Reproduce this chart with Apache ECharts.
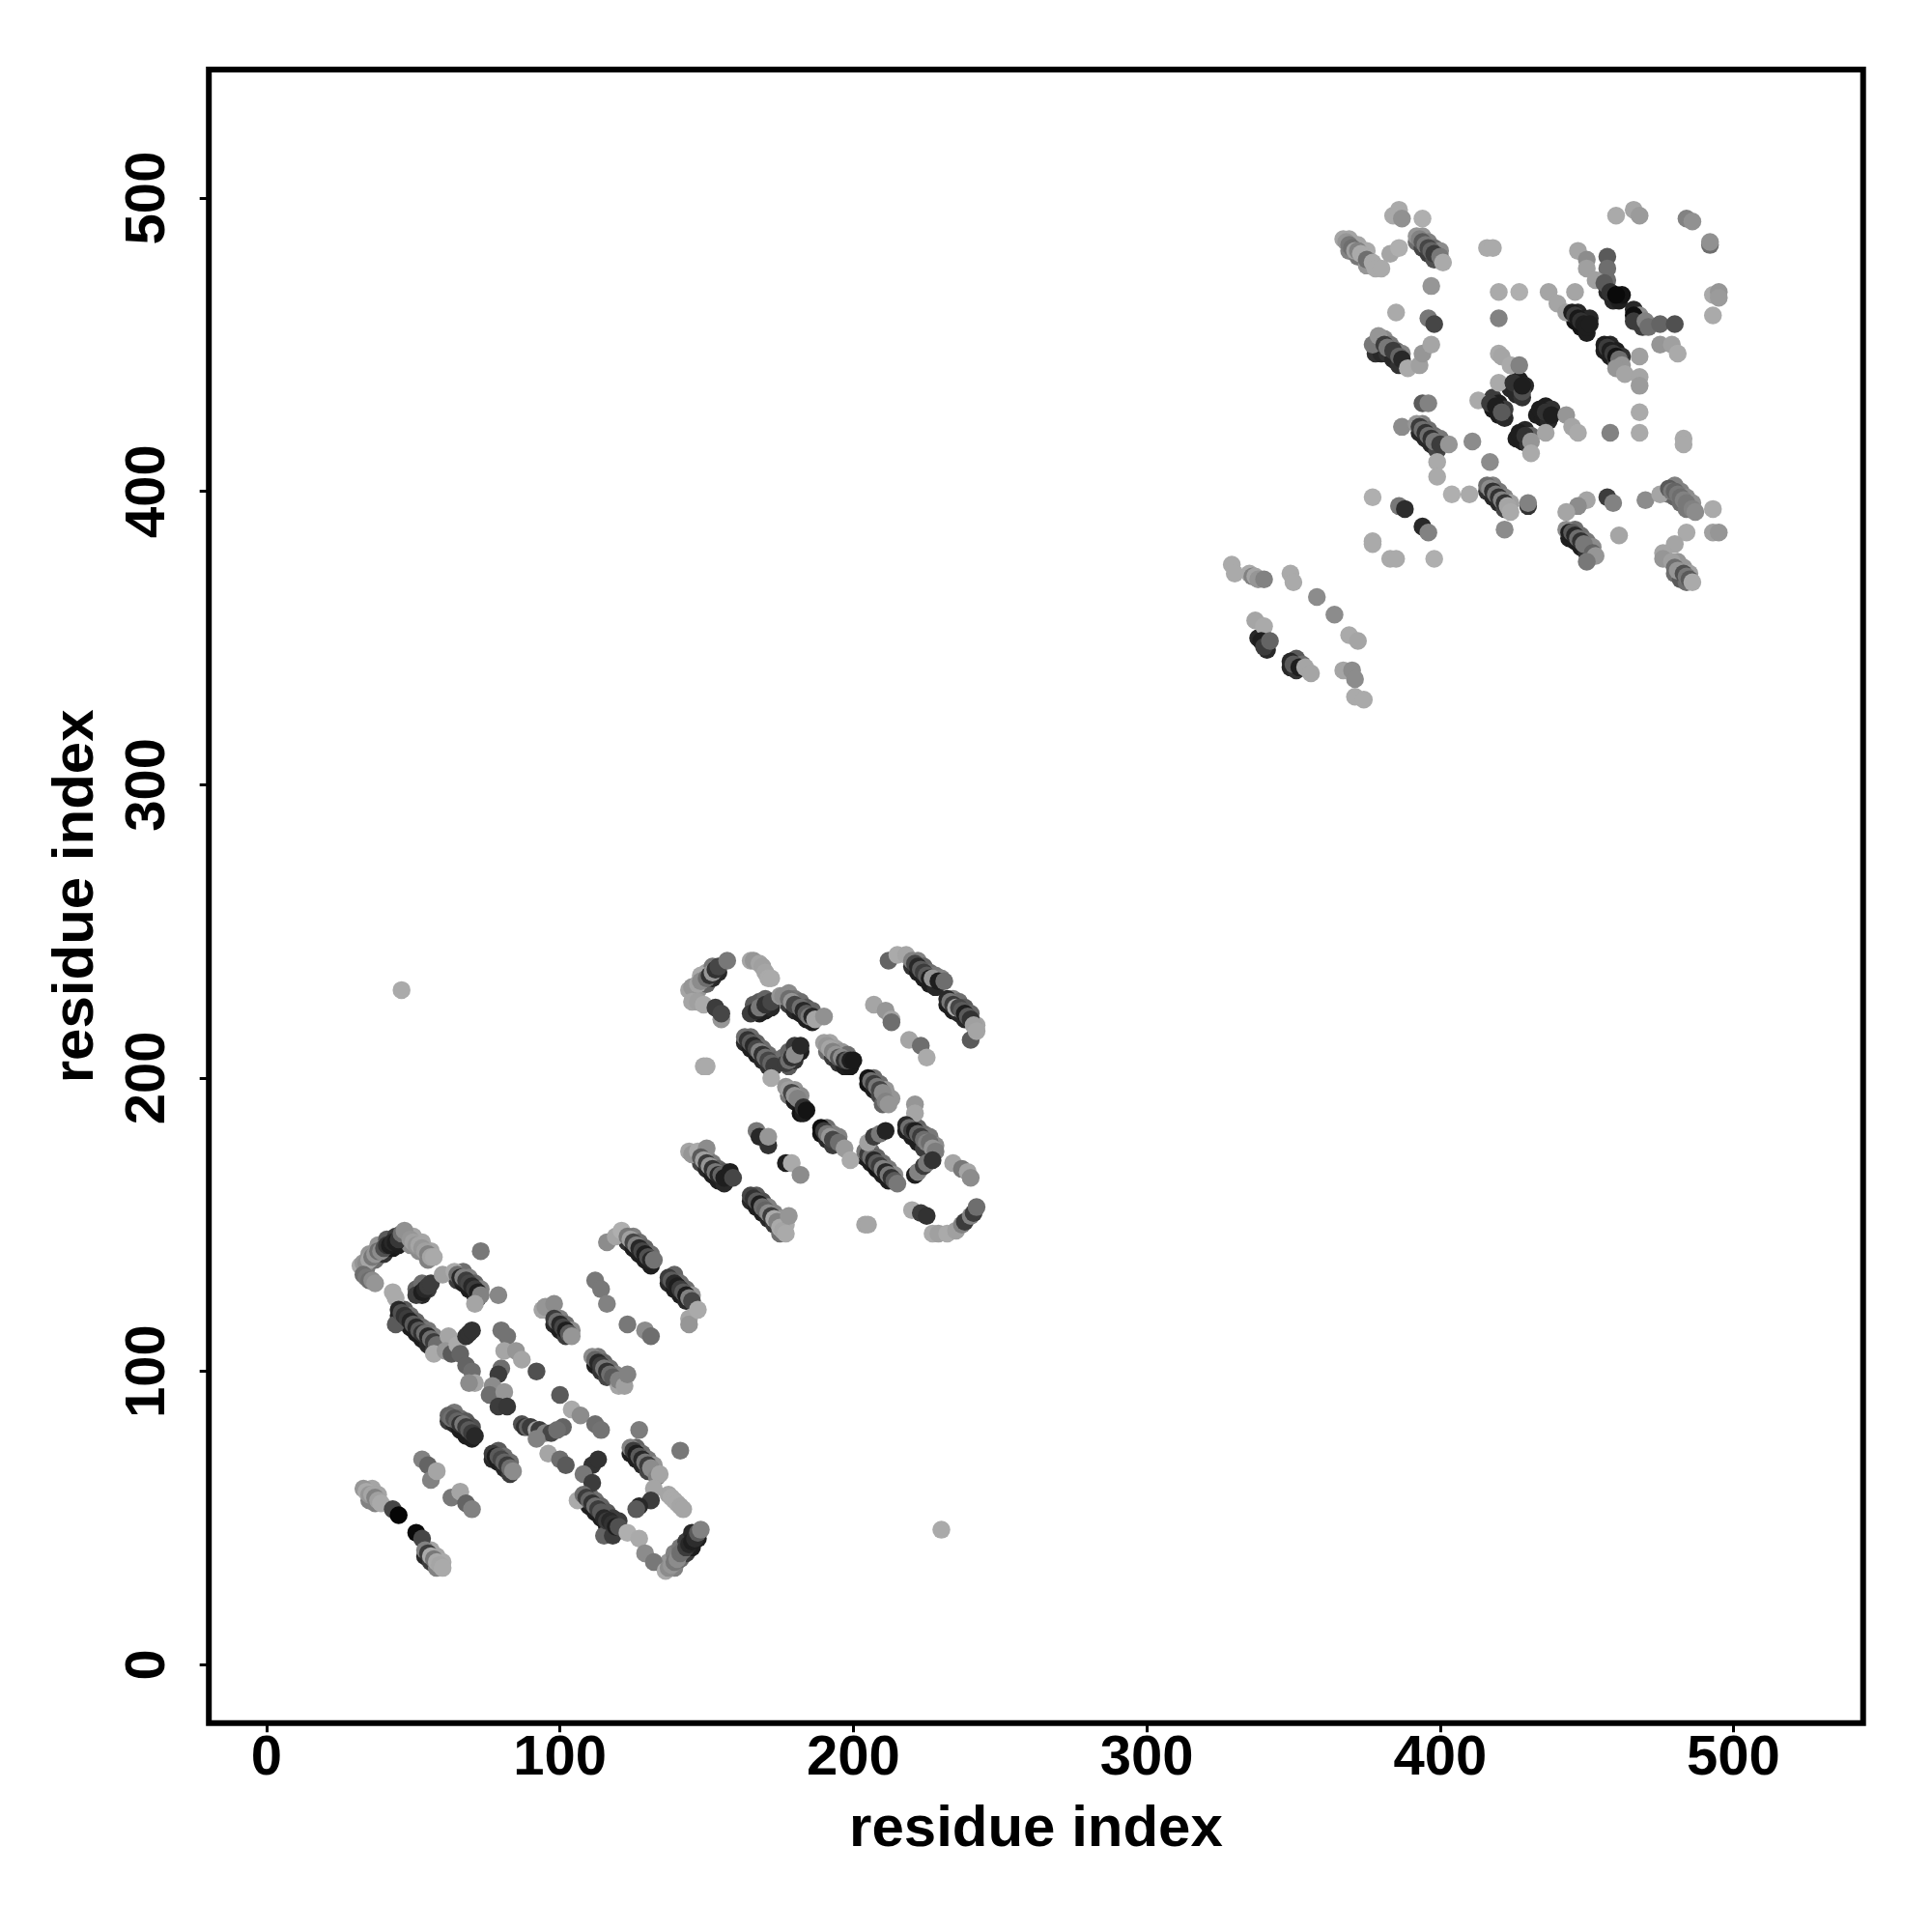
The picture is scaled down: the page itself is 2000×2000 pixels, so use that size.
<!DOCTYPE html>
<html><head><meta charset="utf-8">
<style>html,body{margin:0;padding:0;background:#fff}#c{width:2000px;height:2000px}</style>
<script src="https://cdn.jsdelivr.net/npm/echarts@6/dist/echarts.min.js"></script>
</head><body><div id="c"></div>
<script>
// each contact: [residue x, residue y, grey level 0-255]
const tickValues = [0, 100, 200, 300, 400, 500];
const axisName = "residue index";
const outliers = [[230,46,170],[46,230,170]];
const flankA = [
[34,135,120],[37,138,110],[40,140,50],[43,142,25],[45,143,30],[35,140,150],[38,143,150],[41,145,90],[44,146,60],
[50,146,165],[53,144,165],[56,141,165],[49,143,140],[52,141,140],[55,138,130],
[65,131,60],[67,130,30],[69,128,30],[71,126,30],[72,125,40],[67,134,110],[69,132,130],[71,130,100],[73,128,130],
[53,126,40],[55,128,60],[51,128,100],[53,130,110],
[45,119,30],[47,117,30],[49,115,30],[51,113,30],[53,111,30],[55,109,40],[57,107,60],[47,121,90],[49,119,110],[51,117,100],[53,115,110],[55,114,120],[57,112,130],
[62,83,60],[64,82,40],[66,80,30],[68,78,30],[70,77,30],[64,86,120],[66,84,110],[68,83,90],[70,81,80],
[77,70,40],[79,69,30],[81,67,40],[83,65,60],[79,73,90],[81,71,110],[83,69,110],
[108,56,30],[110,54,30],[112,52,30],[114,50,30],[116,47,30],[118,46,30],[110,58,110],[112,56,110],[114,54,100],[116,52,90],[118,50,60],[120,49,60],
[124,72,30],[126,70,30],[128,68,40],[130,66,70],[126,74,100],[128,72,110],[130,70,120],[132,68,150],
[123,144,50],[125,142,30],[127,140,30],[129,138,30],[131,136,30],[125,146,130],[127,144,110],[129,142,100],[131,140,110],
[137,130,40],[139,128,30],[141,126,30],[143,124,40],[139,133,100],[141,130,110],[143,128,110],[145,126,150],
[98,116,40],[100,114,30],[102,112,60],[100,118,130],[102,116,110],[104,114,140],
[112,102,30],[114,100,50],[116,98,70],[113,105,120],[115,103,100],[117,101,110],[119,99,130],
[139,33,130],[141,36,110],[143,38,60],[145,40,30],[147,43,30],[137,35,150],[139,38,130],[141,40,120],[143,42,60],[145,45,40],
[35,56,130],[37,55,130],[36,60,165],[38,58,165],[54,37,40],[56,35,60],[58,33,130],[56,39,165],[58,37,165],[60,35,170]
];
const clusterA = [
[32,136,170],[33,137,150],[34,137,140],[35,138,165],[36,139,120],[37,140,150],[38,141,110],[39,141,140],[40,142,80],[41,143,50],[42,143,30],[43,144,40],[44,144,30],[45,145,55],[46,147,110],[47,148,145],
[49,145,150],[50,144,160],[51,143,150],[52,143,165],[53,142,150],[54,141,160],[55,140,130],[56,139,165],[57,139,170],
[33,133,110],[34,132,120],[35,131,110],[36,131,140],[37,130,150],[43,127,170],[44,125,170],[73,141,120],
[51,126,60],[53,127,30],[54,128,40],[55,129,60],[56,130,60],[60,133,160],[64,134,170],
[65,133,110],[66,132,40],[67,132,130],[68,131,60],[69,130,70],[70,129,40],[71,128,60],[72,127,30],[73,126,130],[71,123,165],[79,126,135],
[44,116,90],[45,121,40],[46,120,80],[47,119,50],[48,118,60],[49,117,35],[50,116,90],[51,115,40],[52,114,90],[53,113,50],[54,113,110],[55,112,40],[56,111,110],[57,110,60],[58,109,110],[57,106,170],
[62,112,165],[61,107,150],[63,106,90],[65,109,170],[66,106,100],[68,112,50],[69,113,50],[70,114,50],[68,102,100],[70,100,110],[71,96,165],[69,96,140],
[80,114,115],[82,112,115],[81,107,165],[85,107,150],[87,104,165],[92,100,80],[80,101,110],[79,99,60],[77,95,140],[76,92,110],[81,93,150],[79,88,60],[82,88,55],
[100,92,90],[104,87,170],[107,85,140],[101,81,100],[112,82,110],[114,80,115],
[87,82,80],[88,81,50],[89,81,100],[90,81,60],[92,80,160],[93,80,60],[95,79,130],[97,79,70],[99,80,110],[92,77,130],
[96,72,165],[100,70,110],[102,68,90],[111,68,50],[113,70,50],[108,65,120],[111,62,60],[106,56,170],
[108,58,110],[109,57,60],[110,56,100],[111,55,50],[112,54,110],[113,53,60],[114,52,90],[115,50,40],[115,44,100],[116,49,60],[117,49,40],[118,48,50],[118,44,60],[119,47,30],[120,47,80],[123,45,175],[127,43,170],
[129,38,140],[132,35,120],[136,32,170],[137,33,140],[138,34,150],[139,35,120],[140,36,140],[141,38,110],[142,39,110],[143,40,60],[144,41,40],[145,42,30],[146,43,45],[147,45,90],[148,46,130],
[137,58,165],[138,57,170],[139,56,170],[140,55,170],[141,54,165],[142,53,165],
[127,80,125],[124,74,130],[125,73,60],[126,72,30],[127,71,90],[128,70,40],[129,69,120],[130,68,60],[131,67,140],[133,64,130],[134,65,165],[141,73,120],
[132,60,165],[131,56,60],[127,54,40],[126,53,90],
[62,85,100],[63,84,110],[64,84,80],[65,83,100],[66,82,50],[67,82,120],[68,81,60],[69,80,90],[70,79,60],[71,78,40],
[77,72,60],[78,71,30],[79,71,90],[80,70,70],[81,69,100],[82,68,60],[83,67,110],[84,66,140],
[53,70,130],[55,68,100],[56,63,130],[58,66,165],[63,57,120],[66,59,165],[68,55,100],[70,53,130],
[33,60,150],[34,59,170],[35,58,150],[36,58,165],[37,57,130],[38,56,160],[39,55,170],[43,53,70],[45,51,5],[51,45,10],[53,43,70],
[54,39,130],[55,38,60],[56,37,170],[57,36,120],[58,35,170],[59,34,165],[60,33,170],
[116,144,140],[119,146,165],[121,148,175],[123,146,120],[124,145,160],[125,144,70],[126,143,130],[127,142,40],[128,141,70],[129,140,30],[130,139,80],[131,138,40],[132,138,115],
[137,132,60],[138,131,90],[139,130,40],[140,129,30],[141,128,60],[142,127,90],[143,126,30],[144,125,130],[145,124,70],[144,118,165],[144,116,150],[147,121,170],
[112,131,120],[114,128,120],[116,123,130],[123,116,120],[129,114,140],[131,112,110],
[94,121,165],[95,122,150],[98,123,140],[98,118,60],[99,117,110],[100,116,40],[101,115,70],[102,114,30],[103,113,90],[104,112,150],
[111,105,140],[112,104,100],[113,103,40],[114,102,60],[115,101,120],[116,100,50],[117,99,110],[118,98,90],[120,95,165],[120,97,130],[122,95,160],[123,99,130]
];
const flankB = [
[147,230,150],[150,232,100],[152,234,40],[154,236,40],[148,234,165],[150,236,165],[152,238,120],
[178,225,60],[180,223,40],[182,222,30],[184,220,30],[186,219,30],[178,229,140],[180,227,120],[182,226,110],[184,224,90],[186,223,100],
[168,222,30],[170,223,30],[172,224,40],[166,225,90],[168,226,90],[170,227,100],
[163,212,40],[165,210,30],[167,208,30],[169,206,40],[171,204,50],[165,214,110],[167,212,100],[169,210,110],[171,208,110],[173,206,100],
[191,209,110],[193,207,60],[195,205,50],[197,204,30],[199,204,25],[192,212,165],[194,210,160],[196,209,150],[198,208,110],
[205,198,20],[207,196,30],[209,194,70],[210,191,100],[207,200,110],[209,198,110],[211,196,150],[213,193,150],
[204,173,30],[206,171,30],[208,169,20],[210,167,30],[212,165,30],[206,175,110],[208,173,100],[210,171,110],[212,169,120],[214,167,140],
[218,182,30],[220,180,30],[222,178,30],[224,176,60],[220,184,110],[222,183,100],[224,181,110],[226,180,120],[228,177,140],
[165,158,40],[167,156,30],[169,154,30],[171,152,40],[173,150,60],[175,147,110],[167,160,90],[169,158,80],[171,156,130],[173,154,130],[175,152,150],[177,150,170],
[148,171,70],[150,169,40],[152,167,30],[154,165,30],[156,164,40],[150,173,140],[152,171,120],[154,169,100],[156,168,90],
[220,238,50],[222,236,30],[224,234,30],[226,232,30],[228,231,40],[222,240,130],[224,238,100],[226,236,110],[228,235,120],[230,234,130],
[232,225,30],[234,223,30],[236,222,40],[238,220,40],[234,227,130],[236,226,110],[238,224,90],[240,222,100],[242,218,165],
[189,181,20],[191,179,40],[193,177,60],[191,183,110],[193,181,130],[195,180,130],
[178,194,120],[180,192,30],[182,188,20],[180,196,150],[182,194,140],
[178,204,90],[180,206,50],[182,209,30],[176,207,110],[178,209,100],[180,211,60]
];
const clusterB = [
[144,230,165],[145,231,150],[147,232,165],[148,235,170],[148,233,140],[150,234,110],[151,235,50],[152,236,150],[153,237,50],[154,238,70],[157,240,120],
[145,226,165],[147,226,160],[149,225,170],[155,220,150],[153,224,60],[155,222,70],
[165,240,165],[166,240,150],[168,239,165],[169,238,160],[170,236,165],[171,234,170],[172,234,170],
[165,222,60],[167,223,40],[168,224,120],[170,225,50],[172,226,70],
[175,228,150],[176,228,140],[178,227,110],[179,226,150],[180,225,70],[182,224,110],[183,223,40],[184,222,90],[185,221,120],[186,221,40],[187,220,165],[190,221,145],
[163,214,110],[164,213,50],[165,212,90],[166,211,40],[167,210,70],[168,209,130],[169,208,50],[170,207,110],[171,206,70],[172,205,100],[173,204,60],[172,200,170],
[177,205,60],[178,206,110],[179,207,50],[180,208,140],[182,211,40],[149,204,170],[150,204,170],
[177,197,150],[178,196,160],[179,195,70],[180,194,150],[181,193,130],[183,188,30],[183,190,50],[184,189,20],
[190,212,160],[191,211,150],[192,210,165],[193,209,130],[194,208,150],[195,207,90],[196,207,140],[197,206,50],[198,206,90],[199,206,30],[200,206,25],
[205,200,20],[206,199,110],[207,198,60],[208,197,120],[209,196,70],[210,195,140],[211,192,130],[212,191,150],
[189,183,15],[190,182,60],[191,181,120],[192,180,150],[193,179,70],[195,178,110],[197,176,155],[199,172,170],
[204,175,120],[205,174,60],[206,173,110],[207,172,40],[208,171,90],[209,170,60],[210,169,130],[211,168,40],[212,167,120],[213,166,50],[214,165,90],[215,164,120],
[205,178,160],[207,180,60],[209,181,120],[211,182,35],
[221,191,150],[221,188,165],[218,184,40],[219,183,110],[220,182,60],[221,182,30],[222,181,100],[223,180,60],[224,179,110],[225,178,130],[226,178,110],[227,176,150],[228,175,125],
[221,167,30],[222,168,130],[224,170,60],[225,171,120],[227,172,50],
[234,171,165],[237,169,120],[239,168,165],[240,166,140],
[220,155,170],[223,154,60],[225,153,50],[227,147,170],[229,147,160],[232,147,170],[235,148,160],[237,150,130],[238,151,60],[240,153,130],[241,154,60],[242,156,110],
[204,150,165],[205,150,165],
[165,160,70],[166,159,50],[167,158,90],[168,157,30],[169,156,110],[170,155,100],[171,154,140],[172,153,60],[173,152,170],[174,151,130],[175,149,170],[176,148,165],[177,147,170],[178,153,150],
[144,175,165],[145,174,150],[147,175,170],[150,176,140],[148,173,90],[149,172,160],[150,171,60],[151,170,150],[152,169,50],[153,168,120],[154,167,40],[155,167,100],[156,166,30],[158,168,30],[159,166,70],
[167,182,120],[168,180,40],[171,177,50],[171,180,150],[177,171,30],[179,171,170],[182,167,140],
[212,240,100],[215,242,170],[218,242,165],[220,240,130],[221,239,70],[222,238,40],[223,237,90],[224,236,60],[225,235,90],[226,234,30],[227,234,150],[229,233,30],[231,233,110],
[232,227,40],[233,226,120],[234,225,60],[235,224,170],[236,224,70],[237,223,90],[238,222,30],[239,221,90],[240,220,50],[240,213,90],[241,218,160],[242,216,165],
[207,225,165],[211,223,150],[213,220,165],[213,219,110],[219,213,165],[223,211,110],[225,207,170]
];
const clusterC = [
[329,375,170],[330,372,170],[335,372,170],[336,371,130],[337,371,165],[338,370,150],[340,370,130],[349,372,170],[350,369,170],[358,364,140],[364,358,140],[369,351,170],[372,349,165],[367,339,165],[370,339,140],[371,336,140],[371,330,170],[374,329,170],
[338,350,40],[340,350,50],[341,346,40],[349,340,40],[351,339,50],[351,343,90],[353,341,110],
[337,356,165],[340,354,170],[339,349,30],[340,347,60],[342,349,100],
[349,342,40],[350,341,90],[352,340,30],[354,340,165],[356,338,165]
];
const flankD = [
[392,485,110],[394,483,70],[396,481,60],[398,479,80],[394,487,150],[396,485,130],[398,483,110],[400,482,140],
[369,482,130],[372,480,120],[375,477,150],[369,486,165],[372,484,165],[375,482,170],
[378,447,50],[380,447,40],[382,447,50],[384,445,40],[386,443,50],[381,452,140],[383,450,120],[385,448,110],[387,447,130],
[393,420,40],[395,418,40],[397,416,40],[399,414,70],[394,423,130],[396,421,110],[398,419,110],[400,418,120],
[416,400,50],[418,398,40],[420,396,40],[422,394,70],[418,402,130],[420,400,120],[422,398,130],[424,396,160],
[444,384,30],[446,383,30],[448,381,30],[450,379,50],[446,387,110],[448,385,110],[450,383,120],[452,381,140],
[478,399,110],[480,398,100],[482,396,110],[484,394,120],[480,402,130],[482,400,130],[484,398,140],[486,396,145],
[480,372,110],[482,370,90],[484,369,110],[481,376,150],[483,374,150],[485,372,160],
[446,458,20],[448,456,20],[450,454,30],[447,461,40],[449,459,30],[451,459,40],
[456,448,30],[458,446,30],[460,444,60],[458,450,40],[460,448,30],[462,446,50],
[457,468,40],[459,465,40],[461,465,30],[457,472,110],[462,467,20],
[467,458,30],[469,456,60],[466,462,40],[468,460,140],
[418,428,25],[420,426,30],[422,425,40],[418,432,60],[420,430,30],[422,428,60],
[424,435,40],[426,433,40],[428,432,50],[427,438,30],[429,436,40],
[433,426,30],[435,425,30],[437,424,40],[436,429,30],[438,428,50],
[426,418,30],[428,417,30],[430,416,50],[429,421,40],[431,419,100]
];
const clusterD = [
[367,486,165],[368,485,150],[369,484,120],[370,483,110],[371,482,160],[372,482,130],[373,481,170],[375,479,110],[377,478,170],[378,476,170],[380,476,170],[383,481,165],[386,483,175],
[384,494,170],[386,496,170],[387,493,145],[394,493,175],
[392,487,150],[393,486,130],[394,485,90],[395,484,120],[396,483,70],[397,482,100],[398,481,60],[400,480,120],[401,478,170],[397,470,150],
[416,483,170],[418,483,170],[420,468,170],[427,468,175],[437,468,165],[446,468,165],
[385,461,170],[396,459,120],[398,457,70],[420,459,130],
[377,450,120],[379,453,150],[381,450,60],[382,449,120],[384,448,60],[386,446,100],[387,445,40],[389,442,170],[393,443,160],[394,447,150],[397,450,165],
[420,447,170],[421,446,165],[424,443,170],[427,443,130],[420,437,170],[425,437,50],[428,434,80],[428,436,30],
[413,431,170],[417,430,60],[419,429,30],[421,427,90],[394,430,90],[396,430,130],
[387,422,140],[392,423,150],[393,422,60],[394,421,110],[395,420,50],[396,419,110],[397,418,50],[398,417,120],[400,416,60],[403,416,150],
[411,417,140],[417,410,140],[399,410,170],[399,405,170],
[434,428,30],[436,427,50],[438,426,30],[443,426,150],[445,422,165],[447,420,170],[427,420,30],[429,419,50],[431,417,150],[431,413,170],[436,420,165],
[458,420,130],[468,420,170],[468,427,170],[483,418,170],[483,416,170],
[377,398,175],[386,395,120],[388,394,45],[394,388,40],[396,386,130],[377,383,170],[377,382,170],[383,377,170],[385,377,170],[398,377,175],
[404,399,175],[410,399,170],[416,402,110],[417,401,140],[418,400,50],[419,399,120],[420,398,50],[421,397,130],[422,396,50],[423,395,165],[424,393,170],[422,387,140],
[430,395,50],[430,396,130],[450,397,165],[447,395,140],[443,393,165],
[443,387,140],[444,386,30],[445,386,90],[446,385,40],[447,384,110],[448,383,50],[449,382,120],[452,379,100],[453,378,150],[450,376,120],
[457,398,60],[459,396,130],[461,385,165],[470,397,140],[475,399,165],[478,401,90],[479,400,120],[480,400,100],[481,399,120],[482,398,110],[483,397,130],[484,396,120],[486,394,130],[487,393,140],
[493,394,170],[484,386,170],[480,382,165],[476,379,165],[476,377,150],[479,376,160],[480,374,110],[481,373,150],[483,372,80],[484,371,120],[485,370,90],[486,369,170],[493,386,160],[495,386,150],
[460,494,170],[466,496,165],[468,494,155],[484,493,130],[486,492,145],[492,484,110],[492,485,145],[493,467,170],[495,468,150],[495,466,155],[493,460,170],
[447,482,165],[450,479,140],[450,476,160],[457,480,90],[457,476,110],[453,472,160],[456,471,90],[458,468,50],[460,467,10],
[440,464,165],[443,461,160],[445,461,30],[446,460,60],[447,459,25],[448,458,50],[449,457,30],[450,456,30],[451,457,30],
[466,460,15],[466,458,60],[470,458,130],[471,456,110],[475,457,100],[480,457,80],[475,450,150],[479,450,160],[481,447,170],
[456,450,30],[457,449,60],[458,448,30],[459,447,60],[460,446,20],[461,445,110],[462,443,150],[460,442,150],[463,440,165],[468,446,160],[468,439,165],[468,436,155]
];
const points = outliers.concat(flankA, clusterA, flankB, clusterB, clusterC, flankD, clusterD);
const grey = v => `rgb(${v},${v},${v})`;
const tickFont = {fontFamily:"Liberation Sans",fontWeight:"bold",fontSize:58,color:"#000"};
const nameFont = {fontFamily:"Liberation Sans",fontWeight:"bold",fontSize:60,color:"#000"};
const chart = echarts.init(document.getElementById("c"),null,{renderer:"canvas"});
chart.setOption({
  animation:false,
  backgroundColor:"#fff",
  grid:{left:216.2,top:72,width:1712.5,height:1711.7,show:true,borderColor:"#000",borderWidth:6,backgroundColor:"transparent"},
  xAxis:{type:"value",min:-19.69,max:544.2,
    axisLine:{show:false,onZero:false},splitLine:{show:false},
    axisTick:{show:true,length:9.5,inside:false,customValues:tickValues,lineStyle:{color:"#000",width:3}},
    axisLabel:Object.assign({show:true,customValues:tickValues,margin:8,formatter:v=>String(v)},tickFont),
    name:axisName,nameLocation:"middle",nameGap:81,nameTextStyle:nameFont},
  yAxis:{type:"value",min:-19.89,max:543.8,
    axisLine:{show:false,onZero:false},splitLine:{show:false},
    axisTick:{show:true,length:9.5,inside:false,customValues:tickValues,lineStyle:{color:"#000",width:3}},
    axisLabel:Object.assign({show:true,customValues:tickValues,rotate:90,margin:62,align:"center",verticalAlign:"middle",formatter:v=>String(v)},tickFont),
    name:axisName,nameLocation:"middle",nameGap:107,nameTextStyle:nameFont},
  series:[{type:"scatter",symbol:"circle",symbolSize:18.5,data:points,
    encode:{x:0,y:1},silent:true,
    itemStyle:{opacity:1,color:p=>grey(p.data[2])}}]
});
</script></body></html>
